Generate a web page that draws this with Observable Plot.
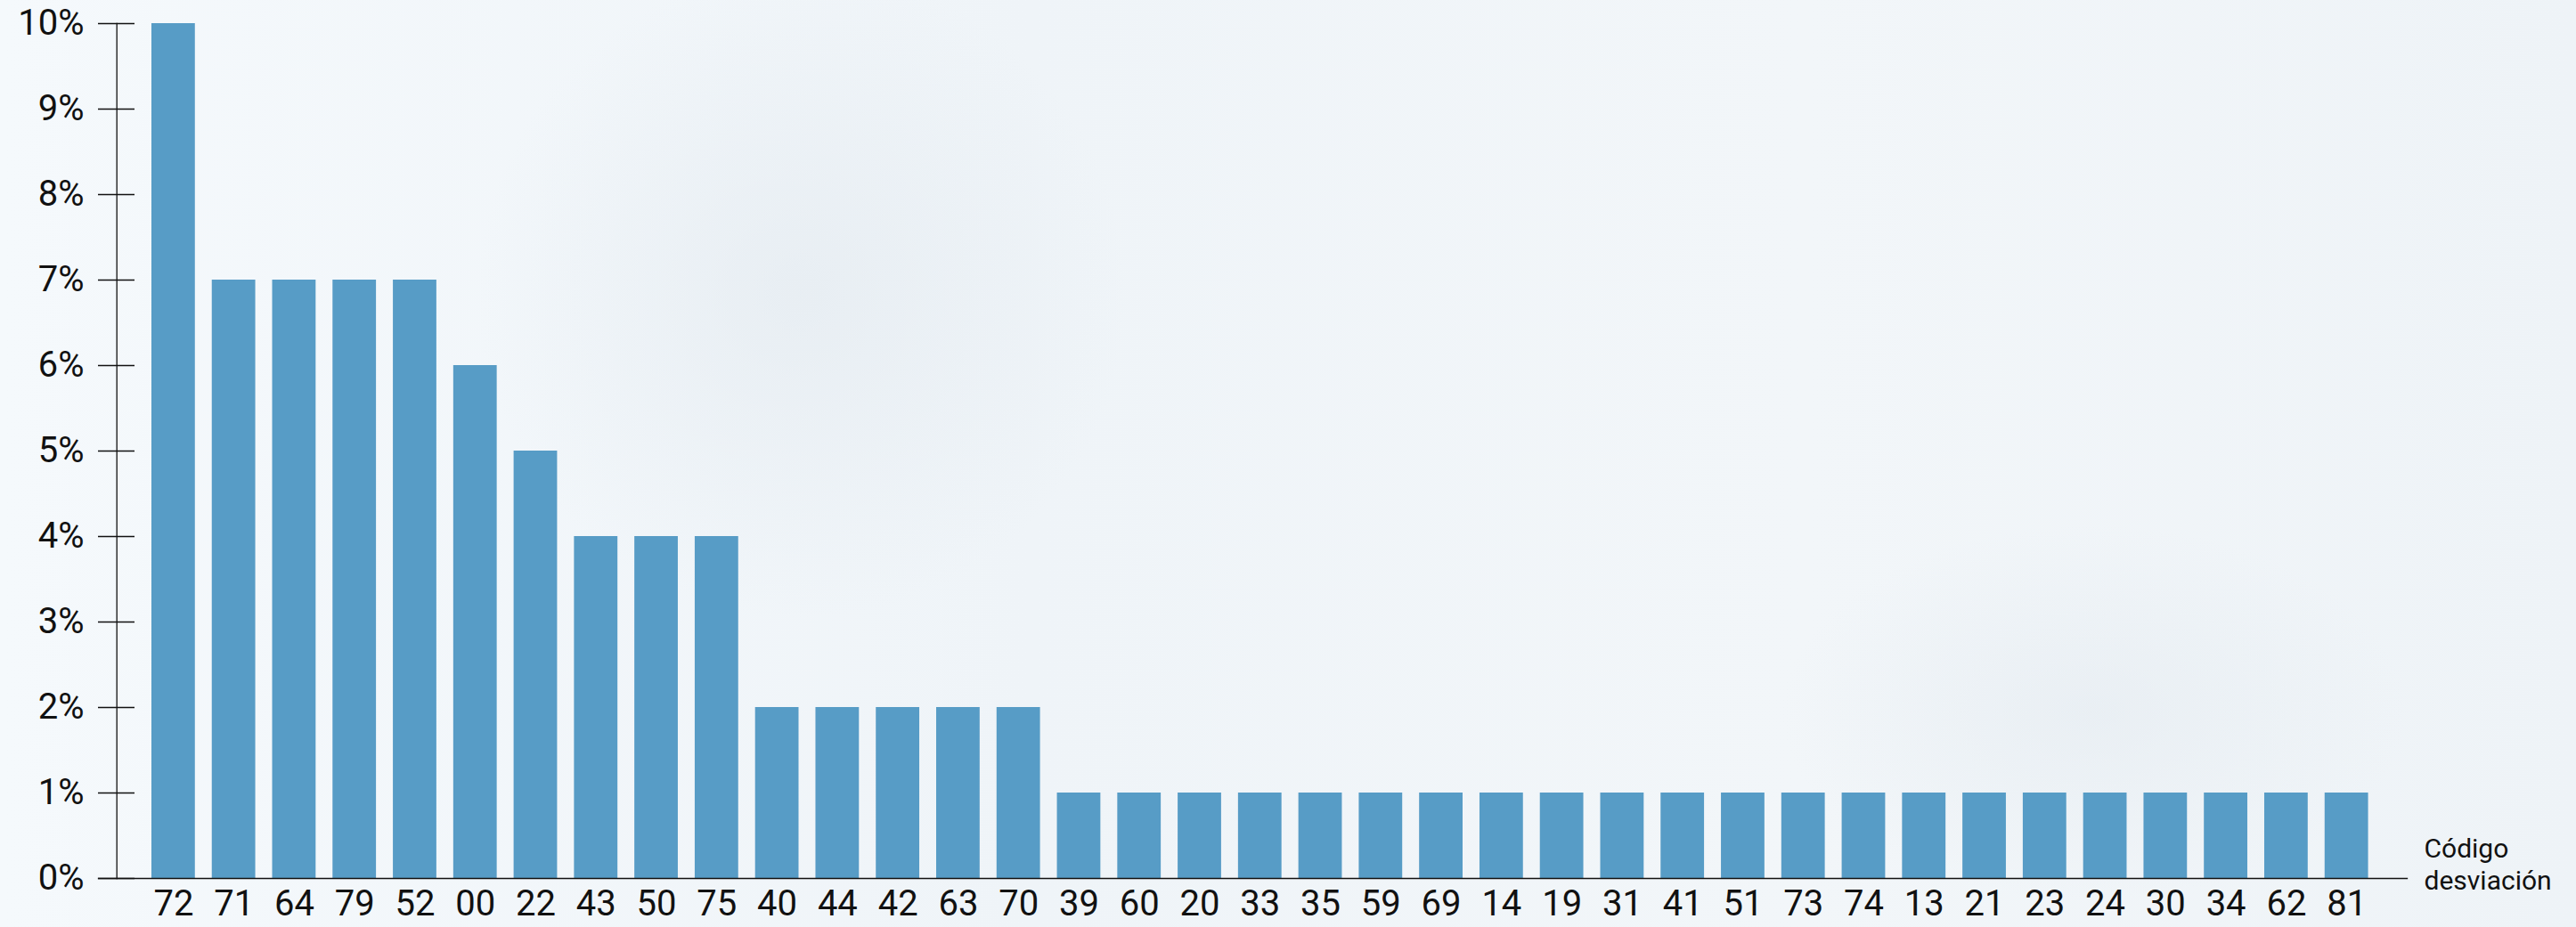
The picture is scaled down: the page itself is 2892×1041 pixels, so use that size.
<!DOCTYPE html>
<html>
<head>
<meta charset="utf-8">
<script src="https://cdn.jsdelivr.net/npm/d3@7"></script>
<script src="https://cdn.jsdelivr.net/npm/@observablehq/plot@0.6"></script>
<style>
  html, body { margin: 0; padding: 0; }
  body {
    width: 2892px; height: 1041px; overflow: hidden;
    background:
      radial-gradient(ellipse 520px 520px at 900px 330px, rgba(225,232,238,0.55), rgba(240,245,249,0) 70%),
      radial-gradient(ellipse 500px 300px at 2350px 800px, rgba(226,233,239,0.5), rgba(240,245,249,0) 70%),
      linear-gradient(90deg, #f5f9fc 0%, #eff4f8 40%, #f2f6f9 70%, #eef3f7 100%);
    font-family: Roboto, "Noto Sans", sans-serif;
  }
  #chart svg { display: block; background: transparent; }
</style>
</head>
<body>
<div id="chart"></div>
<script>
const codes = ["72","71","64","79","52","00","22","43","50","75","40","44","42","63","70","39","60","20","33","35","59","69","14","19","31","41","51","73","74","13","21","23","24","30","34","62","81"];
const values = [10,7,7,7,7,6,5,4,4,4,2,2,2,2,2,1,1,1,1,1,1,1,1,1,1,1,1,1,1,1,1,1,1,1,1,1,1];
const yTicks = [0,1,2,3,4,5,6,7,8,9,10];
const axisTitle = "Código\ndesviación";

const data = codes.map((c, i) => ({code: c, value: values[i]}));

const chart = Plot.plot({
  width: 2892,
  height: 1041,
  marginTop: 26,
  marginBottom: 55,
  marginLeft: 110,
  marginRight: 190,
  style: {background: "transparent", fontFamily: "Roboto, 'Noto Sans', sans-serif", color: "#111"},
  x: {type: "band", domain: codes, paddingInner: 0.28, paddingOuter: 0.763, align: 0.58, round: false, label: null},
  y: {domain: [0, 10], label: null},
  marks: [
    Plot.barY(data, {x: "code", y: "value", fill: "#579cc6"}),
    Plot.frame({anchor: "left", dx: 20.7, stroke: "#111", strokeWidth: 1.3}),
    Plot.frame({anchor: "bottom", stroke: "#111", strokeWidth: 1.3}),
    Plot.axisY(yTicks, {anchor: "left", tickSize: 41, dx: 41, tickFormat: () => "", stroke: "#111", strokeWidth: 1.3, label: null}),
    Plot.axisY(yTicks, {anchor: "left", tickSize: 0, tickPadding: 16, tickFormat: d => `${d}%`, fontSize: 40, fill: "#111", label: null}),
    Plot.axisX({anchor: "bottom", tickSize: 0, tickPadding: 13, fontSize: 40, fill: "#111", label: null}),
    Plot.text([axisTitle], {frameAnchor: "bottom-right", dx: 19, dy: -17.5, textAnchor: "start", lineAnchor: "middle", lineHeight: 1.2, fontSize: 30, fill: "#111"})
  ]
});
document.getElementById("chart").appendChild(chart);
</script>
</body>
</html>
